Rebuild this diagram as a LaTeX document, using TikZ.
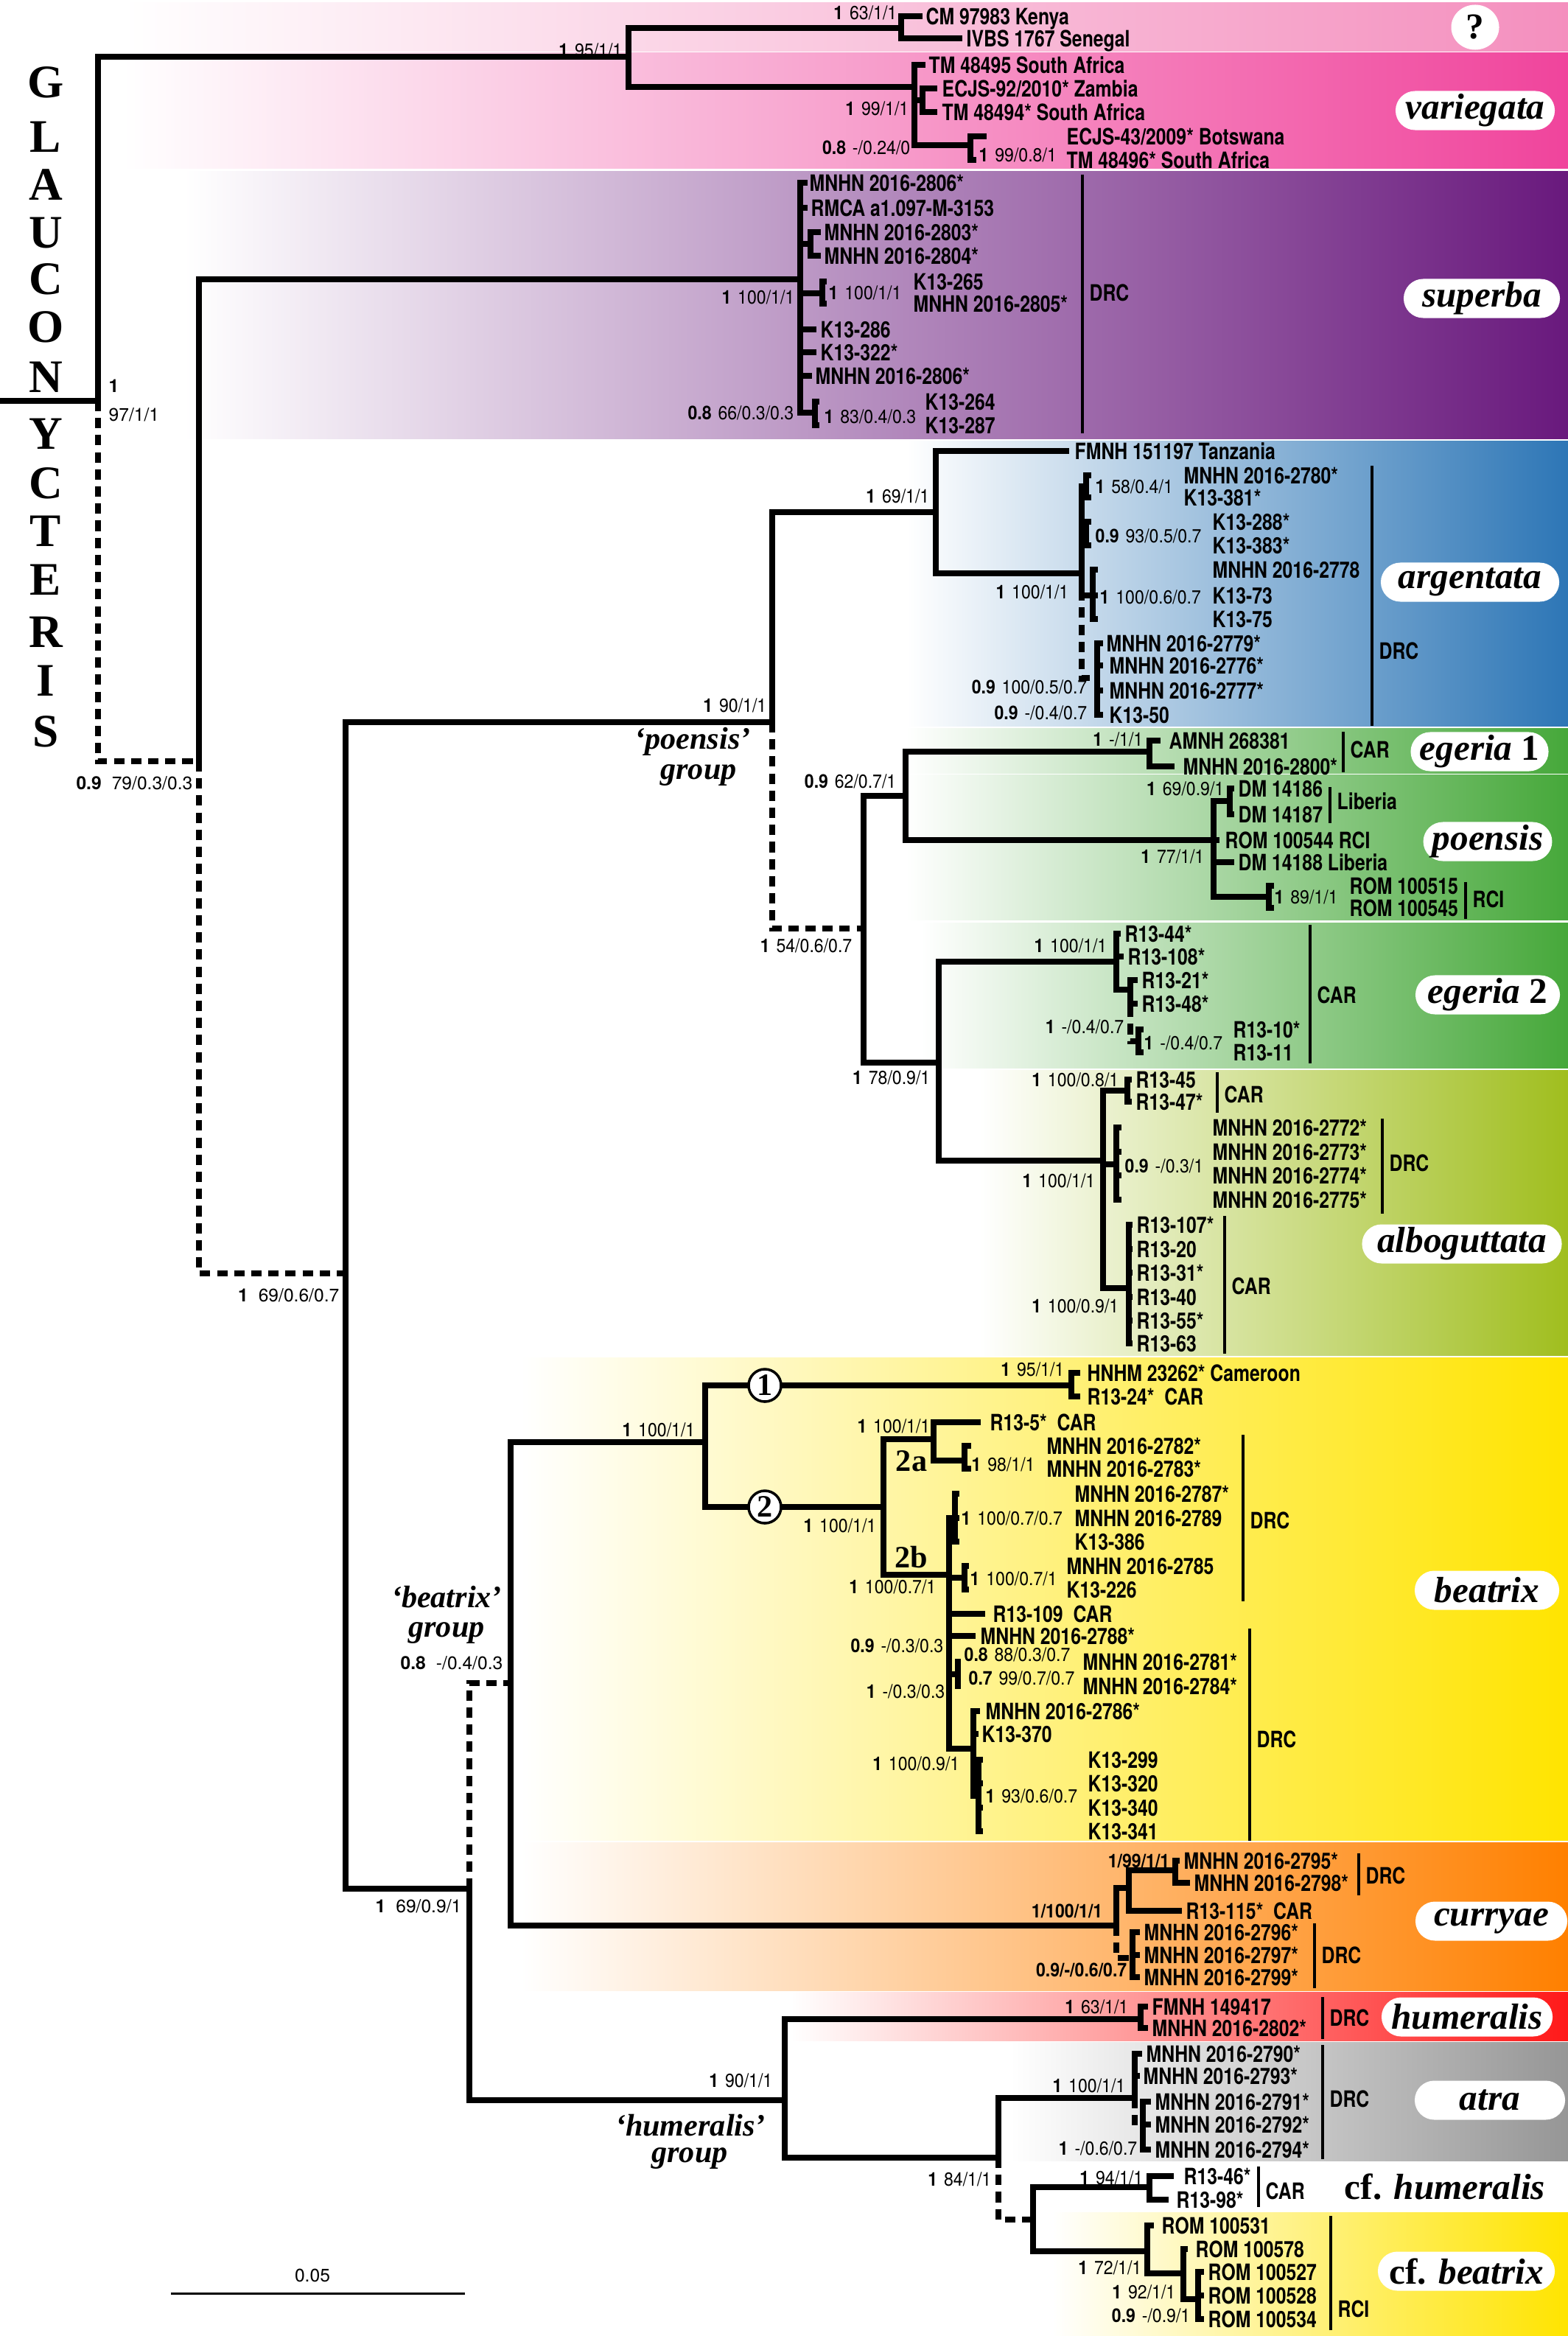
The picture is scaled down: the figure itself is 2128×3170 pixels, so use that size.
\documentclass[tikz,border=0pt]{standalone}
\usepackage{fontspec}
\setmainfont{Liberation Serif}
\newfontfamily\heros{TeX Gyre Heros}
\newfontfamily\heroscn[FakeStretch=0.81]{TeX Gyre Heros}
\newfontfamily\heroscs[FakeStretch=0.9]{TeX Gyre Heros}
\usetikzlibrary{shapes.geometric,shapes.misc}

\definecolor{cq}{RGB}{244,143,190}
\definecolor{cvar}{RGB}{240,68,156}
\definecolor{csup}{RGB}{105,25,125}
\definecolor{carg}{RGB}{45,118,182}
\definecolor{ceg}{RGB}{70,168,58}
\definecolor{calb}{RGB}{160,190,30}
\definecolor{cbea}{RGB}{255,228,0}
\definecolor{ccur}{RGB}{255,128,0}
\definecolor{chum}{RGB}{255,25,25}
\definecolor{catr}{RGB}{150,150,150}

\tikzset{
  br/.style={line width=2.4pt},
  dbr/.style={br, dash pattern=on 4pt off 2.6pt},
  regbar/.style={line width=1pt},
  leaf/.style={anchor=west, inner sep=0pt, text height=6.3pt, text depth=0pt,
    font=\heroscn\bfseries\fontsize{8.7}{9}\selectfont},
  supl/.style={inner sep=0pt, text height=5.3pt, text depth=0pt,
    font=\heroscs\fontsize{7.3}{8}\selectfont},
  supw/.style={inner sep=0pt, text height=5pt, text depth=0pt,
    font=\heros\fontsize{7}{8}\selectfont},
  sp/.style={inner sep=0pt, font=\bfseries\itshape\fontsize{14}{16}\selectfont},
  pill/.style={sp, rounded rectangle, fill=white, minimum height=0.53cm},
  grp/.style={inner sep=0pt, font=\bfseries\itshape\fontsize{12}{13}\selectfont},
  genus/.style={inner sep=0pt, font=\bfseries\fontsize{18}{20}\selectfont},
  knot/.style={circle, draw, line width=1pt, fill=white, minimum size=0.44cm,
    inner sep=0pt, font=\bfseries\fontsize{12}{12}\selectfont},
  tag/.style={inner sep=0pt, font=\bfseries\fontsize{12}{12}\selectfont}
}

% tip of a branch and its label
\newcommand{\tip}[5]{%
  \coordinate (#1) at (#2,#3);
  \node[leaf] (#1-l) at (#4,#3) {#5};}
% locality bar with its text
\newcommand{\locbar}[6]{%
  \coordinate (#1-a) at (#2,#3);
  \coordinate (#1-b) at (#2,#4);
  \draw[regbar] (#1-a) -- (#1-b);
  \node[leaf] (#1) at (#2+9,#5) {#6};}
% coloured band behind a clade
\newcommand{\band}[4]{\shade[left color=white, right color=#4] (#1,#2) rectangle (2128,#3);}
% support values
\newcommand{\bsv}[2]{\textbf{#1}\hspace{2.5pt}#2}

\begin{document}
\begin{tikzpicture}[x=0.01cm, y=-0.01cm]
\useasboundingbox (0,0) rectangle (2128,3170);
\fill[white] (0,0) rectangle (2128,3170);

% bands
\band{167}{4}{70}{cq}
\band{167}{72}{229}{cvar}
\band{250}{233}{595}{csup}
\band{1230}{598}{985}{carg}
\band{1229}{988}{1049}{ceg}
\band{1229}{1051}{1248}{ceg}
\band{1250}{1252}{1449}{ceg}
\band{1330}{1452}{1839}{calb}
\band{707}{1842}{2497}{cbea}
\band{707}{2500}{2701}{ccur}
\band{1073}{2703}{2769}{chum}
\band{1371}{2771}{2932}{catr}
\band{1428}{3002}{3170}{cbea}

% genus name
\foreach \l/\y [count=\i] in {G/112,L/186,A/251,U/316,C/379,O/444,N/512,Y/589,C/656,T/721,E/787,R/858,I/924,S/993}
  \node[genus] (gn\i) at (62,\y) {\l};

% root and backbone
\coordinate (root) at (0,544);
\coordinate (g0) at (133,544);
\coordinate (vq) at (853,77);
\coordinate (g1) at (270,1033);
\coordinate (su) at (1086,379);
\coordinate (g2) at (469,1728);
\coordinate (pg) at (1048,980);
\coordinate (bc) at (637,2563);
\draw[br] (root) -- (g0);
\draw[br] (g0) |- (vq);
\draw[dbr] (g0) |- (g1);
\draw[br] (g1) |- (su);
\draw[dbr] (g1) |- (g2);
\draw[br] (g2) |- (pg);
\draw[br] (g2) |- (bc);

% ? and variegata
\coordinate (qq) at (1223,38);
\coordinate (va) at (1241,118);
\tip{cm}{1252}{22}{1256}{CM 97983 Kenya}
\tip{ivbs}{1306}{52}{1311}{IVBS 1767 Senegal}
\tip{tm95}{1256}{88}{1260}{TM 48495 South Africa}
\coordinate (vz) at (1252,136);
\tip{ec92}{1272}{120}{1278}{ECJS-92/2010* Zambia}
\tip{tm94}{1272}{152}{1278}{TM 48494* South Africa}
\coordinate (vb) at (1317,197);
\tip{ec43}{1339}{185}{1447}{ECJS-43/2009* Botswana}
\tip{tm96}{1325}{217}{1447}{TM 48496* South Africa}
\foreach \c in {qq,va} \draw[br] (vq) |- (\c);
\foreach \c in {cm,ivbs} \draw[br] (qq) |- (\c);
\foreach \c in {tm95,vz,vb} \draw[br] (va) |- (\c);
\foreach \c in {ec92,tm94} \draw[br] (vz) |- (\c);
\foreach \c in {ec43,tm96} \draw[br] (vb) |- (\c);

% superba
\tip{su1}{1096}{248}{1098}{MNHN 2016-2806*}
\tip{su2}{1096}{282}{1100}{RMCA a1.097-M-3153}
\coordinate (s34) at (1100,331);
\tip{su3}{1114}{315}{1118}{MNHN 2016-2803*}
\tip{su4}{1114}{347}{1118}{MNHN 2016-2804*}
\coordinate (s56) at (1116,398);
\tip{su5}{1122}{382}{1239}{K13-265}
\tip{su6}{1122}{412}{1239}{MNHN 2016-2805*}
\tip{su7}{1108}{447}{1113}{K13-286}
\tip{su8}{1108}{478}{1113}{K13-322*}
\tip{su9}{1102}{510}{1106}{MNHN 2016-2806*}
\coordinate (s78) at (1106,560);
\tip{su10}{1112}{545}{1255}{K13-264}
\tip{su11}{1112}{577}{1255}{K13-287}
\foreach \c in {su1,su2,s34,s56,su7,su8,su9,s78} \draw[br] (su) |- (\c);
\foreach \c in {su3,su4} \draw[br] (s34) |- (\c);
\foreach \c in {su5,su6} \draw[br] (s56) |- (\c);
\foreach \c in {su10,su11} \draw[br] (s78) |- (\c);

% argentata
\coordinate (ar) at (1270,695);
\coordinate (pe) at (1172,1260);
\draw[br] (pg) |- (ar);
\draw[dbr] (pg) |- (pe);
\tip{fm}{1451}{612}{1458}{FMNH 151197 Tanzania}
\coordinate (ad) at (1468,778);
\foreach \c in {fm,ad} \draw[br] (ar) |- (\c);
\coordinate (a1) at (1474,660);
\tip{ar1}{1481}{645}{1606}{MNHN 2016-2780*}
\tip{ar2}{1481}{675}{1606}{K13-381*}
\coordinate (a2) at (1474,724);
\tip{ar3}{1481}{708}{1645}{K13-288*}
\tip{ar4}{1481}{740}{1645}{K13-383*}
\coordinate (a3) at (1483,808);
\tip{ar5}{1490}{773}{1645}{MNHN 2016-2778}
\tip{ar6}{1490}{808}{1645}{K13-73}
\tip{ar7}{1490}{840}{1645}{K13-75}
\coordinate (a4) at (1489,920);
\tip{ar8}{1497}{873}{1501}{MNHN 2016-2779*}
\tip{ar9}{1497}{903}{1505}{MNHN 2016-2776*}
\tip{ar10}{1497}{937}{1505}{MNHN 2016-2777*}
\tip{ar11}{1497}{970}{1505}{K13-50}
\foreach \c in {a1,a2,a3} \draw[br] (ad) |- (\c);
\draw[dbr] (ad) |- (a4);
\foreach \c in {ar1,ar2} \draw[br] (a1) |- (\c);
\foreach \c in {ar3,ar4} \draw[br] (a2) |- (\c);
\foreach \c in {ar5,ar6,ar7} \draw[br] (a3) |- (\c);
\foreach \c in {ar8,ar9,ar10,ar11} \draw[br] (a4) |- (\c);

% egeria 1 and poensis
\coordinate (ep) at (1229,1080);
\coordinate (ea) at (1274,1442);
\foreach \c in {ep,ea} \draw[br] (pe) |- (\c);
\coordinate (e1) at (1560,1020);
\coordinate (po) at (1647,1140);
\foreach \c in {e1,po} \draw[br] (ep) |- (\c);
\tip{eg1}{1575}{1005}{1586}{AMNH 268381}
\tip{eg2}{1594}{1040}{1605}{MNHN 2016-2800*}
\foreach \c in {eg1,eg2} \draw[br] (e1) |- (\c);
\coordinate (pd) at (1669,1087);
\tip{po1}{1675}{1070}{1680}{DM 14186}
\tip{po2}{1675}{1105}{1680}{DM 14187}
\tip{po3}{1655}{1140}{1662}{ROM 100544 RCI}
\tip{po4}{1675}{1170}{1680}{DM 14188 Liberia}
\coordinate (pr) at (1722,1217);
\tip{po5}{1729}{1202}{1831}{ROM 100515}
\tip{po6}{1729}{1232}{1831}{ROM 100545}
\foreach \c in {pd,po3,po4,pr} \draw[br] (po) |- (\c);
\foreach \c in {po1,po2} \draw[br] (pd) |- (\c);
\foreach \c in {po5,po6} \draw[br] (pr) |- (\c);

% egeria 2
\coordinate (eg) at (1515,1305);
\coordinate (al) at (1497,1575);
\foreach \c in {eg,al} \draw[br] (ea) |- (\c);
\tip{e21}{1521}{1267}{1526}{R13-44*}
\tip{e22}{1525}{1298}{1530}{R13-108*}
\coordinate (e2a) at (1534,1343);
\tip{e23}{1544}{1330}{1549}{R13-21*}
\tip{e24}{1544}{1362}{1549}{R13-48*}
\coordinate (e2b) at (1545,1413);
\tip{e25}{1552}{1397}{1673}{R13-10*}
\tip{e26}{1552}{1428}{1673}{R13-11}
\foreach \c in {e21,e22,e2a} \draw[br] (eg) |- (\c);
\foreach \c in {e23,e24} \draw[br] (e2a) |- (\c);
\draw[dbr] (e2a) |- (e2b);
\foreach \c in {e25,e26} \draw[br] (e2b) |- (\c);

% alboguttata
\coordinate (ac) at (1530,1480);
\coordinate (ad2) at (1515,1580);
\coordinate (alc) at (1532,1748);
\foreach \c in {ac,ad2,alc} \draw[br] (al) |- (\c);
\tip{al1}{1536}{1465}{1541}{R13-45}
\tip{al2}{1536}{1495}{1541}{R13-47*}
\foreach \c in {al1,al2} \draw[br] (ac) |- (\c);
\foreach \t/\y [count=\i] in {2772*/1530,2773*/1563,2774*/1595,2775*/1628}
  {\tip{ald\i}{1522}{\y}{1645}{MNHN 2016-\t} \draw[br] (ad2) |- (ald\i);}
\foreach \t/\y [count=\i] in {R13-107*/1662,R13-20/1695,R13-31*/1727,R13-40/1760,R13-55*/1792,R13-63/1823}
  {\tip{alc\i}{1537}{\y}{1542}{\t} \draw[br] (alc) |- (alc\i);}

% beatrix and curryae
\coordinate (bx) at (693,2284);
\coordinate (hg) at (1065,2850);
\draw[dbr] (bc) |- (bx);
\draw[br] (bc) |- (hg);
\coordinate (bt) at (957,1957);
\coordinate (cu) at (1515,2613);
\foreach \c in {bt,cu} \draw[br] (bx) |- (\c);
\coordinate (b1) at (1454,1880);
\coordinate (b2) at (1199,2045);
\foreach \c in {b1,b2} \draw[br] (bt) |- (\c);
\node[knot] (k1) at (1038,1880) {1};
\node[knot] (k2) at (1038,2045) {2};
\tip{bb1}{1466}{1863}{1475}{HNHM 23262* Cameroon}
\tip{bb2}{1466}{1895}{1475}{R13-24*~ CAR}
\foreach \c in {bb1,bb2} \draw[br] (b1) |- (\c);
\coordinate (b2a) at (1267,1953);
\coordinate (b2b) at (1288,2137);
\foreach \c in {b2a,b2b} \draw[br] (b2) |- (\c);
\tip{bb3}{1331}{1930}{1343}{R13-5*~ CAR}
\coordinate (b2c) at (1309,1982);
\tip{bb4}{1318}{1962}{1420}{MNHN 2016-2782*}
\tip{bb5}{1318}{1993}{1420}{MNHN 2016-2783*}
\foreach \c in {bb3,b2c} \draw[br] (b2a) |- (\c);
\foreach \c in {bb4,bb5} \draw[br] (b2c) |- (\c);
\node[tag] (t2a) at (1237,1983) {2a};
\node[tag] (t2b) at (1237,2113) {2b};
\coordinate (b3) at (1296,2060);
\tip{bb6}{1302}{2027}{1458}{MNHN 2016-2787*}
\tip{bb7}{1302}{2060}{1458}{MNHN 2016-2789}
\tip{bb8}{1302}{2092}{1458}{K13-386}
\coordinate (b4) at (1309,2141);
\tip{bb9}{1315}{2125}{1447}{MNHN 2016-2785}
\tip{bb10}{1315}{2157}{1447}{K13-226}
\tip{bb11}{1337}{2190}{1347}{R13-109~ CAR}
\tip{bb12}{1324}{2220}{1330}{MNHN 2016-2788*}
\coordinate (b6) at (1300,2272);
\tip{bb13}{1304}{2255}{1469}{MNHN 2016-2781*}
\tip{bb14}{1304}{2288}{1469}{MNHN 2016-2784*}
\coordinate (b8) at (1321,2373);
\tip{bb15}{1330}{2322}{1337}{MNHN 2016-2786*}
\tip{bb16}{1328}{2353}{1332}{K13-370}
\coordinate (b9) at (1328,2437);
\foreach \c in {b3,b4,bb11,bb12,b6,b8} \draw[br] (b2b) |- (\c);
\foreach \c in {bb6,bb7,bb8} \draw[br] (b3) |- (\c);
\foreach \c in {bb9,bb10} \draw[br] (b4) |- (\c);
\foreach \c in {bb13,bb14} \draw[br] (b6) |- (\c);
\foreach \c in {bb15,bb16,b9} \draw[br] (b8) |- (\c);
\foreach \t/\y [count=\i] in {K13-299/2388,K13-320/2420,K13-340/2453,K13-341/2485}
  {\tip{bk\i}{1334}{\y}{1476}{\t} \draw[br] (b9) |- (bk\i);}

\coordinate (cu1) at (1532,2562);
\coordinate (cu2) at (1537,2657);
\draw[br] (cu) |- (cu1);
\draw[dbr] (cu) |- (cu2);
\coordinate (cu3) at (1595,2538);
\tip{cr1}{1601}{2525}{1606}{MNHN 2016-2795*}
\tip{cr2}{1615}{2555}{1620}{MNHN 2016-2798*}
\tip{cr3}{1604}{2593}{1609}{R13-115*~ CAR}
\foreach \c in {cu3,cr3} \draw[br] (cu1) |- (\c);
\foreach \c in {cr1,cr2} \draw[br] (cu3) |- (\c);
\foreach \t/\y [count=\i] in {2796*/2622,2797*/2653,2799*/2683}
  {\tip{cr\i x}{1547}{\y}{1552}{MNHN 2016-\t} \draw[br] (cu2) |- (cr\i x);}

% humeralis, atra and cf.
\coordinate (hu) at (1548,2740);
\coordinate (hx) at (1355,2928);
\foreach \c in {hu,hx} \draw[br] (hg) |- (\c);
\tip{hm1}{1558}{2723}{1563}{FMNH 149417}
\tip{hm2}{1558}{2752}{1563}{MNHN 2016-2802*}
\foreach \c in {hm1,hm2} \draw[br] (hu) |- (\c);
\coordinate (at) at (1540,2847);
\coordinate (cf) at (1402,3012);
\draw[br] (hx) |- (at);
\draw[dbr] (hx) |- (cf);
\tip{at1}{1550}{2787}{1555}{MNHN 2016-2790*}
\tip{at2}{1547}{2817}{1551}{MNHN 2016-2793*}
\coordinate (at3) at (1551,2885);
\tip{at4}{1562}{2852}{1567}{MNHN 2016-2791*}
\tip{at5}{1562}{2883}{1567}{MNHN 2016-2792*}
\tip{at6}{1562}{2917}{1567}{MNHN 2016-2794*}
\foreach \c in {at1,at2} \draw[br] (at) |- (\c);
\draw[dbr] (at) |- (at3);
\foreach \c in {at4,at5,at6} \draw[br] (at3) |- (\c);
\coordinate (ch) at (1560,2968);
\coordinate (cb) at (1557,3055);
\foreach \c in {ch,cb} \draw[br] (cf) |- (\c);
\tip{ch1}{1593}{2953}{1606}{R13-46*}
\tip{ch2}{1586}{2985}{1596}{R13-98*}
\foreach \c in {ch1,ch2} \draw[br] (ch) |- (\c);
\tip{cb1}{1566}{3020}{1576}{ROM 100531}
\coordinate (cb2) at (1606,3085);
\tip{cb4}{1612}{3052}{1622}{ROM 100578}
\coordinate (cb3) at (1626,3120);
\foreach \c in {cb1,cb2} \draw[br] (cb) |- (\c);
\foreach \c in {cb4,cb3} \draw[br] (cb2) |- (\c);
\foreach \t/\y [count=\i] in {100527/3083,100528/3115,100534/3147}
  {\tip{cr\i r}{1634}{\y}{1639}{ROM \t} \draw[br] (cb3) |- (cr\i r);}

% support values
\node[supw, anchor=west] (s-g0a) at (147,524) {\textbf{1}};
\node[supw, anchor=west] (s-g0b) at (147,563) {97/1/1};
\node[supw, anchor=east] (s-g1) at (262,1063) {\textbf{0.9}\hspace{4pt}79/0.3/0.3};
\node[supw, anchor=east] (s-g2) at (461,1758) {\textbf{1}\hspace{4pt}69/0.6/0.7};
\node[supw, anchor=east] (s-bc) at (627,2587) {\textbf{1}\hspace{4pt}69/0.9/1};
\node[supw, anchor=east] (s-bx) at (683,2257) {\textbf{0.8}\hspace{4pt}-/0.4/0.3};
\node[supl, anchor=east] (s-vq) at (845,68) {\bsv{1}{95/1/1}};
\node[supl, anchor=east] (s-qq) at (1218,17) {\bsv{1}{63/1/1}};
\node[supl, anchor=east] (s-va) at (1234,147) {\bsv{1}{99/1/1}};
\node[supl, anchor=east] (s-vz) at (1236,200) {\bsv{0.8}{-/0.24/0}};
\node[supl, anchor=west] (s-vb) at (1328,210) {\bsv{1}{99/0.8/1}};
\node[supl, anchor=east] (s-su) at (1079,403) {\bsv{1}{100/1/1}};
\node[supl, anchor=west] (s-s56) at (1124,397) {\bsv{1}{100/1/1}};
\node[supl, anchor=east] (s-s78a) at (1078,560) {\bsv{0.8}{66/0.3/0.3}};
\node[supl, anchor=west] (s-s78) at (1118,565) {\bsv{1}{83/0.4/0.3}};
\node[supl, anchor=east] (s-pg) at (1041,957) {\bsv{1}{90/1/1}};
\node[supl, anchor=east] (s-ar) at (1262,673) {\bsv{1}{69/1/1}};
\node[supl, anchor=west] (s-a1) at (1486,660) {\bsv{1}{58/0.4/1}};
\node[supl, anchor=west] (s-a2) at (1486,727) {\bsv{0.9}{93/0.5/0.7}};
\node[supl, anchor=east] (s-ad) at (1451,803) {\bsv{1}{100/1/1}};
\node[supl, anchor=west] (s-a3) at (1492,810) {\bsv{1}{100/0.6/0.7}};
\node[supl, anchor=east] (s-a4) at (1476,932) {\bsv{0.9}{100/0.5/0.7}};
\node[supl, anchor=east] (s-a5) at (1476,967) {\bsv{0.9}{-/0.4/0.7}};
\node[supl, anchor=east] (s-pe) at (1157,1283) {\bsv{1}{54/0.6/0.7}};
\node[supl, anchor=east] (s-ep) at (1217,1060) {\bsv{0.9}{62/0.7/1}};
\node[supl, anchor=east] (s-e1) at (1552,1003) {\bsv{1}{-/1/1}};
\node[supl, anchor=east] (s-pd) at (1662,1070) {\bsv{1}{69/0.9/1}};
\node[supl, anchor=east] (s-po) at (1635,1162) {\bsv{1}{77/1/1}};
\node[supl, anchor=west] (s-pr) at (1729,1217) {\bsv{1}{89/1/1}};
\node[supl, anchor=east] (s-ea) at (1263,1462) {\bsv{1}{78/0.9/1}};
\node[supl, anchor=east] (s-eg) at (1503,1283) {\bsv{1}{100/1/1}};
\node[supl, anchor=east] (s-e2a) at (1526,1393) {\bsv{1}{-/0.4/0.7}};
\node[supl, anchor=west] (s-e2b) at (1552,1415) {\bsv{1}{-/0.4/0.7}};
\node[supl, anchor=east] (s-ac) at (1519,1465) {\bsv{1}{100/0.8/1}};
\node[supl, anchor=west] (s-ad2) at (1526,1582) {\bsv{0.9}{-/0.3/1}};
\node[supl, anchor=east] (s-al) at (1487,1602) {\bsv{1}{100/1/1}};
\node[supl, anchor=east] (s-alc) at (1519,1772) {\bsv{1}{100/0.9/1}};
\node[supl, anchor=east] (s-bt) at (944,1940) {\bsv{1}{100/1/1}};
\node[supl, anchor=east] (s-b1) at (1445,1858) {\bsv{1}{95/1/1}};
\node[supl, anchor=east] (s-b2) at (1190,2070) {\bsv{1}{100/1/1}};
\node[supl, anchor=east] (s-b2a) at (1263,1935) {\bsv{1}{100/1/1}};
\node[supl, anchor=west] (s-b2c) at (1318,1987) {\bsv{1}{98/1/1}};
\node[supl, anchor=west] (s-b3) at (1304,2060) {\bsv{1}{100/0.7/0.7}};
\node[supl, anchor=west] (s-b4) at (1316,2142) {\bsv{1}{100/0.7/1}};
\node[supl, anchor=east] (s-b2b) at (1271,2153) {\bsv{1}{100/0.7/1}};
\node[supl, anchor=east] (s-b5) at (1281,2233) {\bsv{0.9}{-/0.3/0.3}};
\node[supl, anchor=west] (s-b6) at (1308,2245) {\bsv{0.8}{88/0.3/0.7}};
\node[supl, anchor=west] (s-b6b) at (1314,2277) {\bsv{0.7}{99/0.7/0.7}};
\node[supl, anchor=east] (s-b7) at (1283,2295) {\bsv{1}{-/0.3/0.3}};
\node[supl, anchor=east] (s-b8) at (1303,2393) {\bsv{1}{100/0.9/1}};
\node[supl, anchor=west] (s-b9) at (1337,2437) {\bsv{1}{93/0.6/0.7}};
\node[supl, anchor=east] (s-cu3) at (1588,2525) {\textbf{1/99/1/1}};
\node[supl, anchor=east] (s-cu1) at (1497,2593) {\textbf{1/100/1/1}};
\node[supl, anchor=east] (s-cu2) at (1530,2673) {\textbf{0.9/-/0.6/0.7}};
\node[supl, anchor=east] (s-hg) at (1049,2823) {\bsv{1}{90/1/1}};
\node[supl, anchor=east] (s-hu) at (1532,2723) {\bsv{1}{63/1/1}};
\node[supl, anchor=east] (s-at) at (1528,2830) {\bsv{1}{100/1/1}};
\node[supl, anchor=east] (s-at3) at (1544,2915) {\bsv{1}{-/0.6/0.7}};
\node[supl, anchor=east] (s-hx) at (1346,2957) {\bsv{1}{84/1/1}};
\node[supl, anchor=east] (s-ch) at (1552,2955) {\bsv{1}{94/1/1}};
\node[supl, anchor=east] (s-cb) at (1550,3077) {\bsv{1}{72/1/1}};
\node[supl, anchor=east] (s-cb2) at (1596,3110) {\bsv{1}{92/1/1}};
\node[supl, anchor=east] (s-cb3) at (1616,3142) {\bsv{0.9}{-/0.9/1}};

% locality bars
\locbar{r-sup}{1469}{237}{588}{397}{DRC}
\locbar{r-arg}{1862}{632}{985}{883}{DRC}
\locbar{r-eg1}{1823}{993}{1048}{1017}{CAR}
\locbar{r-lib}{1805}{1068}{1117}{1087}{Liberia}
\locbar{r-rci}{1989}{1197}{1247}{1220}{RCI}
\locbar{r-eg2}{1778}{1255}{1443}{1350}{CAR}
\locbar{r-al1}{1652}{1455}{1510}{1485}{CAR}
\locbar{r-al2}{1876}{1518}{1647}{1578}{DRC}
\locbar{r-al3}{1662}{1650}{1837}{1745}{CAR}
\locbar{r-be1}{1687}{1947}{2173}{2063}{DRC}
\locbar{r-be2}{1696}{2210}{2498}{2360}{DRC}
\locbar{r-cu1}{1844}{2515}{2572}{2545}{DRC}
\locbar{r-cu2}{1784}{2610}{2698}{2653}{DRC}
\locbar{r-hum}{1795}{2710}{2767}{2738}{DRC}
\locbar{r-atr}{1795}{2775}{2930}{2848}{DRC}
\locbar{r-cfh}{1708}{2940}{2995}{2973}{CAR}
\locbar{r-cfb}{1806}{3007}{3162}{3133}{RCI}

% species names
\node[ellipse, fill=white, minimum width=0.65cm, minimum height=0.61cm, inner sep=0pt,
  font=\bfseries\fontsize{14}{16}\selectfont] (n-q) at (2002,37) {?};
\node[pill, minimum width=2.16cm] (n-var) at (2002,150) {variegata};
\node[pill, minimum width=2.12cm] (n-sup) at (2011,405) {superba};
\node[pill, minimum width=2.42cm] (n-arg) at (1995,790) {argentata};
\node[pill, minimum width=1.84cm] (n-eg1) at (2008,1020) {egeria \textup{1}};
\node[pill, minimum width=1.73cm] (n-poe) at (2019,1142) {poensis};
\node[pill, minimum width=1.96cm] (n-eg2) at (2019,1350) {egeria \textup{2}};
\node[pill, minimum width=2.71cm] (n-alb) at (1984,1688) {alboguttata};
\node[pill, minimum width=1.96cm] (n-bea) at (2018,2158) {beatrix};
\node[pill, minimum width=2.06cm] (n-cur) at (2024,2607) {curryae};
\node[pill, minimum width=2.32cm] (n-hum) at (1991,2737) {humeralis};
\node[pill, minimum width=2.04cm] (n-atr) at (2022,2850) {atra};
\node[sp] (n-cfh) at (1961,2967) {\textup{cf.} humeralis};
\node[pill, minimum width=2.40cm] (n-cfb) at (1990,3082) {\textup{cf.} beatrix};

% group names
\node[grp] (gr-poe1) at (940,1006) {‘poensis’};
\node[grp] (gr-poe2) at (948,1052) {group};
\node[grp] (gr-bea1) at (606,2167) {‘beatrix’};
\node[grp] (gr-bea2) at (606,2216) {group};
\node[grp] (gr-hum1) at (937,2884) {‘humeralis’};
\node[grp] (gr-hum2) at (936,2929) {group};

% scale
\coordinate (sc-a) at (232,3112);
\coordinate (sc-b) at (631,3112);
\draw[line width=0.85pt] (sc-a) -- (sc-b);
\node[supw] (sc) at (424,3088) {0.05};
\end{tikzpicture}
\end{document}
